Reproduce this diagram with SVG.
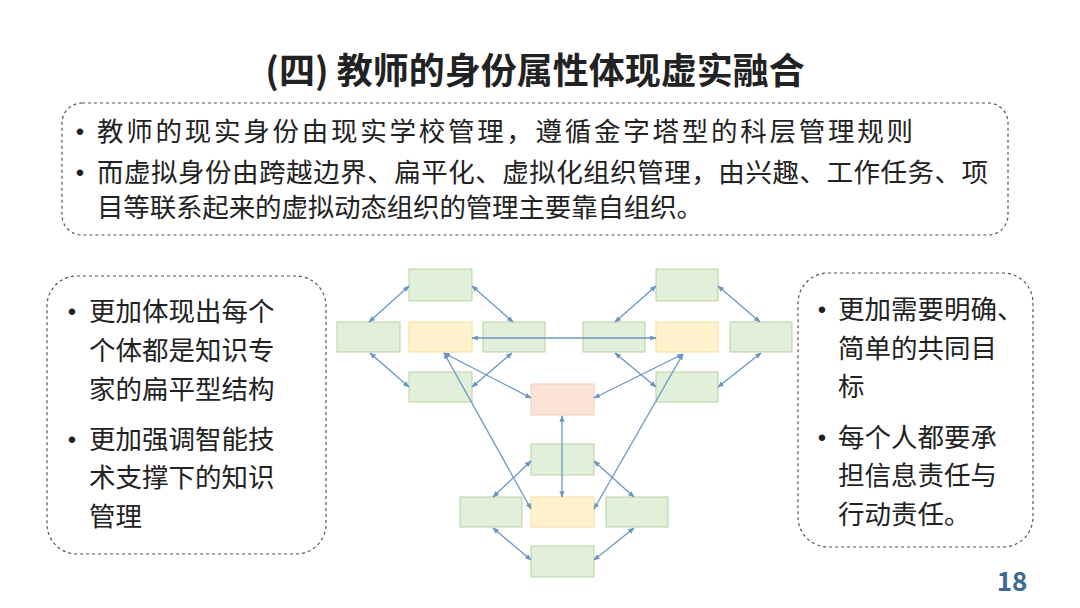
<svg xmlns="http://www.w3.org/2000/svg" width="1080" height="608" viewBox="0 0 1080 608">
<defs>
<marker id="a" viewBox="0 0 10 10" refX="9" refY="5" markerWidth="5" markerHeight="5" orient="auto-start-reverse"><path d="M0,1 L10,5 L0,9 z" fill="#6a96c4"/></marker>
<style>
text{font-family:"Noto Sans CJK SC","Noto Sans",sans-serif;fill:#222}
.t{font-size:26.5px}
.b{font-family:"Liberation Sans",sans-serif;font-size:24px;text-anchor:middle}
.box{fill:none;stroke:#555;stroke-width:1.2;stroke-dasharray:3 3}
.g{fill:#e2efda;stroke:#b5d3a0}
.y{fill:#fff2cc;stroke:#f5dc9a}
.p{fill:#fbe3d8;stroke:#f3cbb8}
.c line{stroke:#6a96c4;stroke-width:1.3;marker-start:url(#a);marker-end:url(#a)}
</style>
</defs>
<rect width="1080" height="608" fill="#fff"/>
<text x="535" y="84" text-anchor="middle" font-size="36" font-weight="bold">(四) 教师的身份属性体现虚实融合</text>
<g id="top"><rect class="box" x="62" y="103" width="946" height="132" rx="20"/>
<text class="b" x="80" y="140">•</text><text class="t" x="97" y="141" textLength="816">教师的现实身份由现实学校管理，遵循金字塔型的科层管理规则</text>
<text class="b" x="80" y="181">•</text><text class="t" x="97" y="182" textLength="891">而虚拟身份由跨越边界、扁平化、虚拟化组织管理，由兴趣、工作任务、项</text>
<text class="t" x="97" y="217" textLength="606">目等联系起来的虚拟动态组织的管理主要靠自组织。</text></g>
<g id="left"><rect class="box" x="47" y="276" width="279" height="278" rx="30"/>
<text class="b" x="72" y="320">•</text><text class="t" x="89" y="321">更加体现出每个</text>
<text class="t" x="89" y="360">个体都是知识专</text>
<text class="t" x="89" y="399">家的扁平型结构</text>
<text class="b" x="72" y="448">•</text><text class="t" x="89" y="449">更加强调智能技</text>
<text class="t" x="89" y="487">术支撑下的知识</text>
<text class="t" x="89" y="526">管理</text></g>
<g id="right"><rect class="box" x="798" y="273" width="235" height="274" rx="30"/>
<text class="b" x="822" y="318">•</text><text class="t" x="838" y="319">更加需要明确、</text>
<text class="t" x="838" y="358">简单的共同目</text>
<text class="t" x="838" y="396">标</text>
<text class="b" x="822" y="446">•</text><text class="t" x="838" y="447">每个人都要承</text>
<text class="t" x="838" y="485">担信息责任与</text>
<text class="t" x="838" y="524">行动责任。</text></g>
<g id="nodes">
<rect id="n1" class="g" x="409" y="269" width="63" height="32"/>
<rect id="n2" class="g" x="337" y="322" width="63" height="30"/>
<rect id="n3" class="y" x="409" y="322" width="63" height="30"/>
<rect id="n4" class="g" x="483" y="322" width="62" height="30"/>
<rect id="n5" class="g" x="409" y="372" width="63" height="30"/>
<rect id="n6" class="g" x="656" y="269" width="62" height="32"/>
<rect id="n7" class="g" x="583" y="322" width="62" height="30"/>
<rect id="n8" class="y" x="656" y="322" width="62" height="30"/>
<rect id="n9" class="g" x="730" y="322" width="62" height="30"/>
<rect id="n10" class="g" x="656" y="372" width="62" height="30"/>
<rect id="n11" class="p" x="531" y="384" width="63" height="31"/>
<rect id="n12" class="g" x="531" y="444" width="63" height="31"/>
<rect id="n13" class="g" x="460" y="497" width="62" height="30"/>
<rect id="n14" class="y" x="531" y="497" width="63" height="30"/>
<rect id="n15" class="g" x="606" y="497" width="62" height="30"/>
<rect id="n16" class="g" x="531" y="546" width="63" height="31"/>
</g>
<g class="c" id="connectors">
<line x1="409" y1="286" x2="369" y2="322"/>
<line x1="472" y1="286" x2="513" y2="322"/>
<line x1="370" y1="353" x2="409" y2="387"/>
<line x1="512" y1="353" x2="472" y2="387"/>
<line x1="656" y1="286" x2="615" y2="322"/>
<line x1="718" y1="286" x2="760" y2="322"/>
<line x1="615" y1="353" x2="656" y2="387"/>
<line x1="761" y1="353" x2="718" y2="387"/>
<line x1="472" y1="338" x2="656" y2="338"/>
<line x1="444" y1="353" x2="531" y2="398"/>
<line x1="683" y1="354" x2="594" y2="398"/>
<line x1="444" y1="353" x2="531" y2="509"/>
<line x1="683" y1="354" x2="594" y2="509"/>
<line x1="562" y1="416" x2="562" y2="497"/>
<line x1="531" y1="461" x2="493" y2="497"/>
<line x1="594" y1="461" x2="634" y2="497"/>
<line x1="493" y1="528" x2="531" y2="560"/>
<line x1="634" y1="528" x2="594" y2="560"/>
</g>
<text x="1012" y="591" text-anchor="middle" font-size="26" font-weight="bold" style="fill:#3c6a96">18</text>
</svg>
